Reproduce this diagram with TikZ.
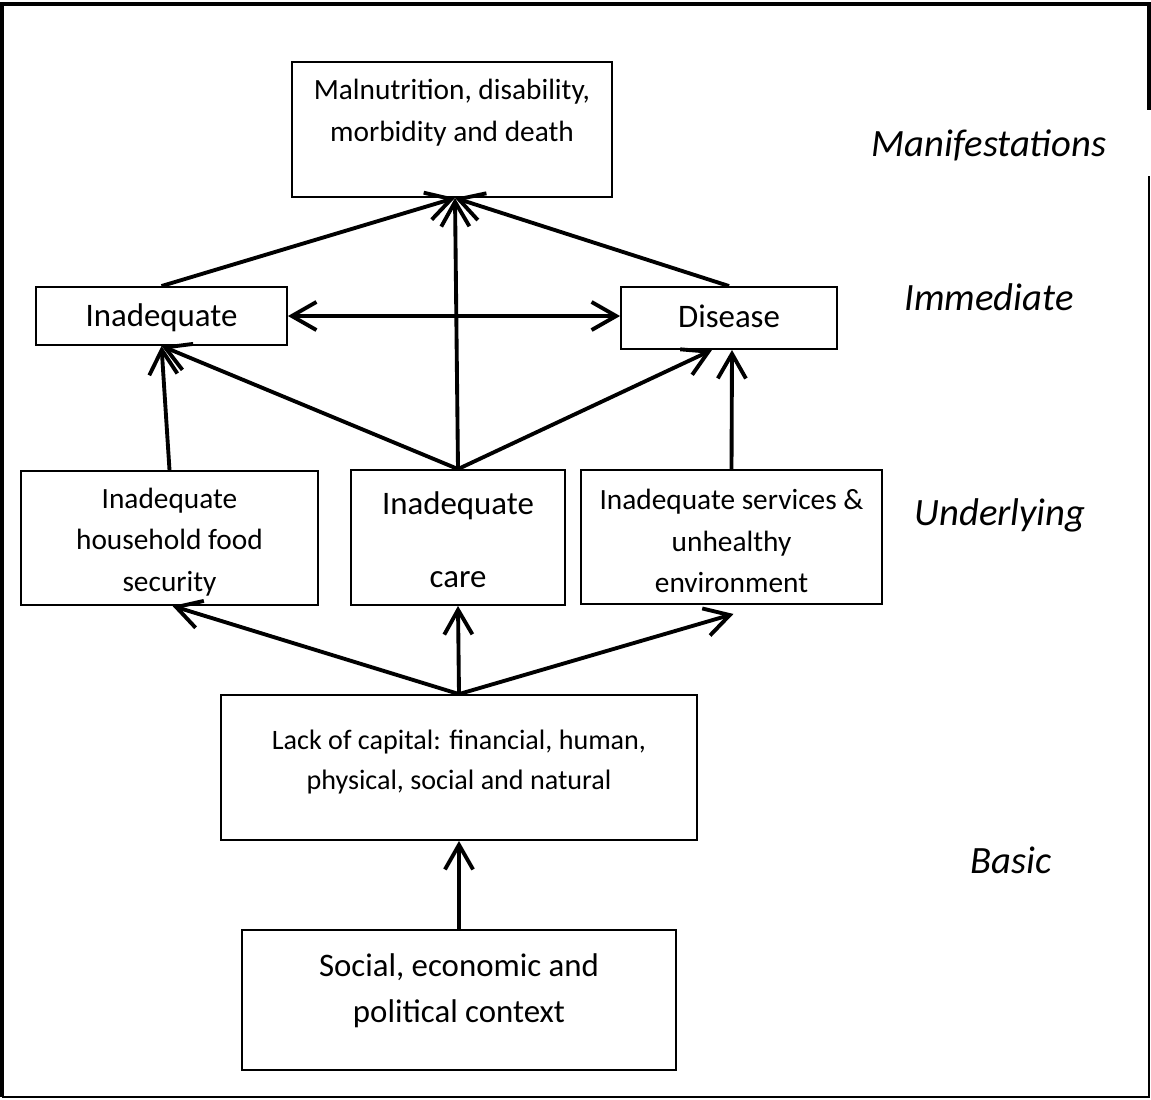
\documentclass[tikz,border=0pt]{standalone}
\usepackage{fontspec}
\setmainfont{Carlito}
\usetikzlibrary{arrows.meta}
\begin{document}
\begin{tikzpicture}[x=0.02cm,y=-0.02cm,
	   box/.style={draw,line width=1.1pt,inner sep=0pt,align=center,font=\fontsize{16.7}{23.8}\selectfont},
	   bigbox/.style={box,font=\fontsize{18.7}{26}\selectfont},
	   txt/.style={inner sep=0pt,align=center,font=\fontsize{16.7}{23.8}\selectfont},
	   bigtxt/.style={txt,font=\fontsize{18.7}{26}\selectfont},
	   level/.style={font=\fontsize{22}{26}\selectfont\itshape},
	   cause/.style={line width=2.2pt,-{Straight Barb[length=14pt,width=16pt]}},
	   both/.style={line width=2.2pt,{Straight Barb[length=14pt,width=16pt]}-{Straight Barb[length=14pt,width=16pt]}}]
	   \useasboundingbox (0,0) rectangle (1151,1099);
	   % frame
	   \draw[line width=2.2pt] (2,1097) -- (2,4) -- (1149,4) -- (1149,110);
	   \draw[line width=1.1pt] (1149,176) -- (1149,1097) -- (2,1097);
	   % boxes
	   \node [box,minimum width=6.4cm,minimum height=2.7cm] (manif) at (452,129.5) {};
	   \node [txt] (maniftext) at (452,113) {Malnutrition, disability,\\ morbidity and death};
	   \node [bigbox,minimum width=5.02cm,minimum height=1.16cm] (intake) at (161.5,316) {};
	   \node [bigtxt] (intaketext) at (161.5,318) {Inadequate};
	   \node [bigbox,minimum width=4.32cm,minimum height=1.24cm] (disease) at (729,318) {};
	   \node [bigtxt] (diseasetext) at (729,316) {Disease};
	   \node [box,minimum width=5.94cm,minimum height=2.68cm] (food) at (169.5,538) {};
	   \node [txt] (foodtext) at (169.5,542) {Inadequate\\ household food\\ security};
	   \node [bigbox,minimum width=4.28cm,minimum height=2.7cm] (care) at (458,537.5) {};
	   \node [bigtxt] (caretext) at (458,540) {Inadequate\\[15.4pt] care};
	   \node [box,minimum width=6.02cm,minimum height=2.68cm] (services) at (731.5,537) {};
	   \node [txt] (servicestext) at (731.5,541) {Inadequate services \&\\ unhealthy\\ environment};
	   \node [box,minimum width=9.52cm,minimum height=2.9cm] (capital) at (459,767.5) {};
	   \node [txt,font=\fontsize{16}{22.7}\selectfont] (capitaltext) at (459,762) {Lack of capital: financial, human,\\ physical, social and natural};
	   \node [bigbox,minimum width=8.68cm,minimum height=2.8cm] (context) at (459,1000) {};
	   \node [bigtxt] (contexttext) at (459,991) {Social, economic and\\ political context};
	   % levels
	   \node [level] (l1) at (989,145) {Manifestations};
	   \node [level] (l2) at (989,297) {Immediate};
	   \node [level] (l3) at (1000,515) {Underlying};
	   \node [level] (l4) at (1011,860) {Basic};
	   % arrows
	   \draw [cause] (intake.north) -- ([xshift=0.06cm]manif.south);
	   \draw [cause] (care.north) -- ([xshift=0.06cm]manif.south);
	   \draw [cause] (disease.north) -- ([xshift=0.06cm]manif.south);
	   \draw [both] (intake.east) -- (disease.west |- intake.east);
	   \draw [cause] (food.north) -- (intake.south);
	   \draw [cause] (care.north) -- ([xshift=-0.34cm]disease.south);
	   \draw [cause] (care.north) -- (intake.south);
	   \draw [cause] (services.north) -- ([xshift=0.06cm]disease.south);
	   \draw [cause] (capital.north) -- ([xshift=0.06cm]food.south);
	   \draw [cause] (capital.north) -- (care.south);
	   \draw [cause] (capital.north) -- ([xshift=0.04cm,yshift=-0.18cm]services.south);
	   \draw [cause] (context.north) -- (capital.south);
\end{tikzpicture}
\end{document}
